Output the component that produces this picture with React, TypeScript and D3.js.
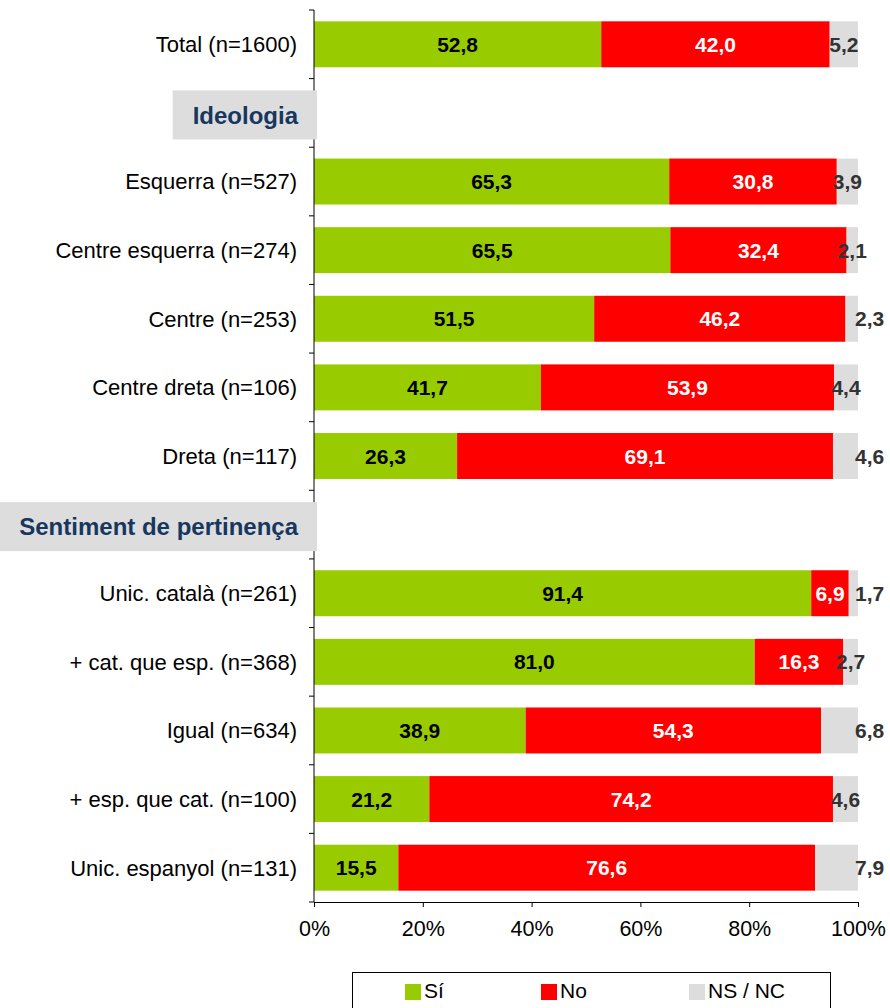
import React, { useEffect, useRef } from "react";
import * as d3 from "d3";

// rows, in order from top to bottom (headers included)
const rowLabels = [
  "Total (n=1600)",
  "Ideologia",
  "Esquerra (n=527)",
  "Centre esquerra (n=274)",
  "Centre (n=253)",
  "Centre dreta (n=106)",
  "Dreta (n=117)",
  "Sentiment de pertinença",
  "Unic. català (n=261)",
  "+ cat. que esp. (n=368)",
  "Igual (n=634)",
  "+ esp. que cat. (n=100)",
  "Unic. espanyol (n=131)",
];
const headerRows = ["Ideologia", "Sentiment de pertinença"];

const siValues = [52.8, null, 65.3, 65.5, 51.5, 41.7, 26.3, null, 91.4, 81.0, 38.9, 21.2, 15.5];
const noValues = [42.0, null, 30.8, 32.4, 46.2, 53.9, 69.1, null, 6.9, 16.3, 54.3, 74.2, 76.6];
const nsValues = [5.2, null, 3.9, 2.1, 2.3, 4.4, 4.6, null, 1.7, 2.7, 6.8, 4.6, 7.9];

const seriesNames = ["Sí", "No", "NS / NC"];
const seriesColors = ["#99CC00", "#FF0000", "#DDDDDD"];
const labelColors = ["#000000", "#FFFFFF", "#333333"];
const xTicks = [0, 20, 40, 60, 80, 100];

// rows whose NS / NC label sits just past the bar end, like the original
const nsOutside = ["Centre (n=253)", "Dreta (n=117)", "Unic. català (n=261)", "Igual (n=634)", "Unic. espanyol (n=131)"];

const W = 890, H = 1008;
const FONT = "'Liberation Sans', Arial, sans-serif";

export default function App() {
  const ref = useRef<SVGSVGElement>(null);

  useEffect(() => {
    const svg = d3.select(ref.current);
    svg.selectAll("*").remove();

    const left = 314, right = 858, top = 10, bottom = 902;
    const x = d3.scaleLinear().domain([0, 100]).range([left, right]);
    const y = d3.scaleBand().domain(rowLabels).range([top, bottom])
      .paddingInner(0.33).paddingOuter(0.165);
    const step = y.step();

    const rows = rowLabels.map((label, i) => ({
      label,
      values: [siValues[i], noValues[i], nsValues[i]],
    })).filter(r => !headerRows.includes(r.label));

    // stacked bars
    const g = svg.append("g");
    rows.forEach(r => {
      let acc = 0;
      r.values.forEach((v, k) => {
        const v0 = acc;
        acc += v as number;
        g.append("rect")
          .attr("x", x(v0))
          .attr("y", y(r.label)!)
          .attr("width", x(acc) - x(v0))
          .attr("height", y.bandwidth())
          .attr("fill", seriesColors[k]);
      });
    });

    // value labels
    rows.forEach(r => {
      let acc = 0;
      r.values.forEach((v, k) => {
        const v0 = acc;
        acc += v as number;
        const outside = k == 2 && nsOutside.includes(r.label);
        g.append("text")
          .attr("x", outside ? x(100) - 3 : x((v0 + acc) / 2))
          .attr("y", y(r.label)! + y.bandwidth() / 2)
          .attr("dy", "0.36em")
          .attr("text-anchor", outside ? "start" : "middle")
          .style("font-family", FONT)
          .style("font-size", "21px")
          .style("font-weight", "bold")
          .attr("fill", labelColors[k])
          .text(d3.format(".1f")(v as number).replace(".", ","));
      });
    });

    // category labels
    rows.forEach(r => {
      svg.append("text")
        .attr("x", 297)
        .attr("y", y(r.label)! + y.bandwidth() / 2)
        .attr("dy", "0.36em")
        .attr("text-anchor", "end")
        .style("font-family", FONT)
        .style("font-size", "22px")
        .attr("fill", "#000")
        .text(r.label);
    });

    // left axis with ticks between rows
    svg.append("line")
      .attr("x1", left).attr("x2", left)
      .attr("y1", top).attr("y2", bottom)
      .attr("stroke", "#000");
    d3.range(rowLabels.length + 1).forEach(i => {
      svg.append("line")
        .attr("x1", left - 5).attr("x2", left)
        .attr("y1", top + i * step).attr("y2", top + i * step)
        .attr("stroke", "#000");
    });

    // group headers
    headerRows.forEach(h => {
      const cy = y(h)! + y.bandwidth() / 2 + 2;
      const box = svg.append("rect").attr("fill", "#DDDDDD");
      const t = svg.append("text")
        .attr("x", 298)
        .attr("y", cy)
        .attr("dy", "0.36em")
        .attr("text-anchor", "end")
        .style("font-family", FONT)
        .style("font-size", "24px")
        .style("font-weight", "bold")
        .attr("fill", "#17375E")
        .text(h);
      const tw = (t.node() as SVGTextElement).getComputedTextLength();
      box.attr("x", 298 - tw - 20).attr("y", cy - 24.5)
        .attr("width", tw + 39).attr("height", 49);
    });

    // bottom axis
    const xa = svg.append("g")
      .attr("transform", `translate(0,${bottom})`)
      .call(d3.axisBottom(x).tickValues(xTicks).tickSize(5).tickPadding(14)
        .tickFormat(d => `${d}%`));
    xa.select(".domain").attr("stroke", "#000");
    xa.selectAll(".tick line").attr("stroke", "#000");
    xa.selectAll(".tick text")
      .style("font-family", FONT)
      .style("font-size", "21.5px")
      .attr("fill", "#000");

    // legend
    const lg = svg.append("g");
    lg.append("rect")
      .attr("x", 352.5).attr("y", 972.5)
      .attr("width", 478).attr("height", 45)
      .attr("fill", "#fff").attr("stroke", "#000");
    const legendX = [405, 541, 689];
    seriesNames.forEach((s, k) => {
      lg.append("rect")
        .attr("x", legendX[k]).attr("y", 984)
        .attr("width", 16).attr("height", 16)
        .attr("fill", seriesColors[k]);
      lg.append("text")
        .attr("x", legendX[k] + 19).attr("y", 998)
        .style("font-family", FONT)
        .style("font-size", "21px")
        .attr("fill", "#000")
        .text(s);
    });
  }, []);

  return (
    <svg ref={ref} width={W} height={H}
      style={{ position: "absolute", left: 0, top: 0, background: "#fff" }} />
  );
}
